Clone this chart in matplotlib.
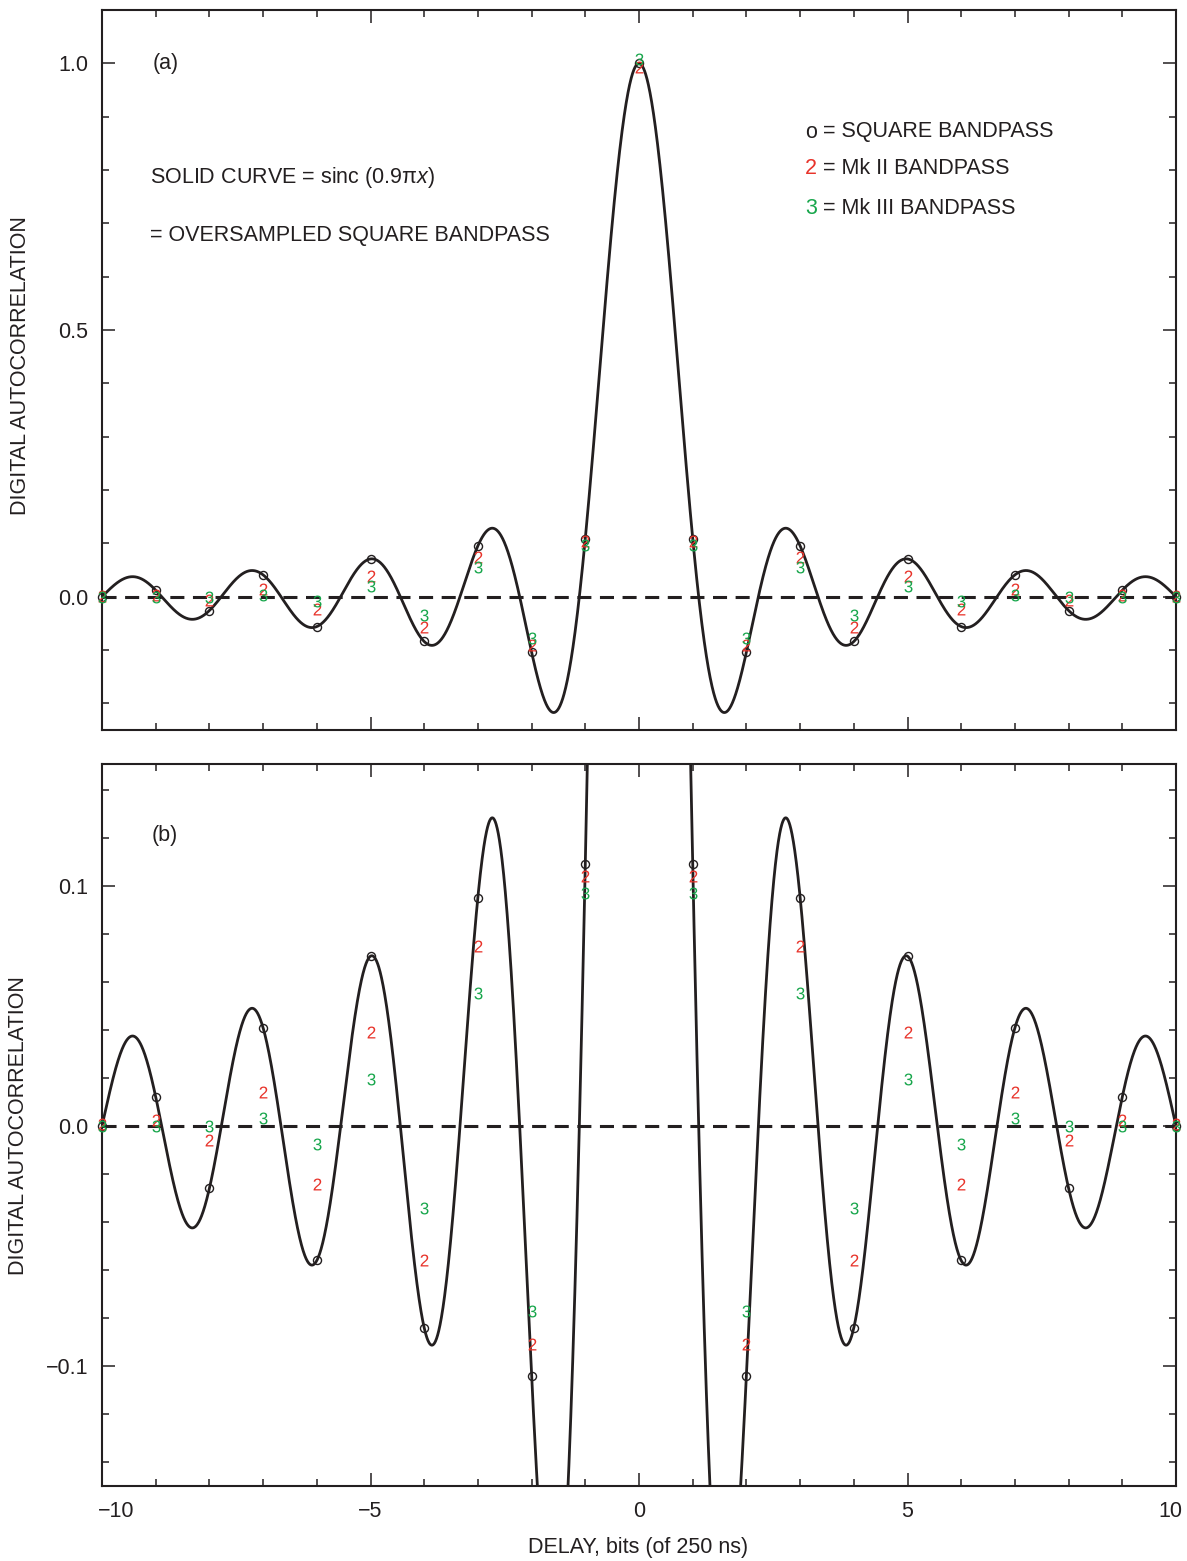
import numpy as np
import matplotlib
matplotlib.use("Agg")
import matplotlib.pyplot as plt
from matplotlib.ticker import MultipleLocator, FixedLocator
from matplotlib.transforms import ScaledTranslation

plt.rcParams['font.family'] = ['Liberation Sans', 'DejaVu Sans']
plt.rcParams['mathtext.fontset'] = 'custom'
plt.rcParams['mathtext.rm'] = 'Liberation Sans'
plt.rcParams['mathtext.it'] = 'Liberation Sans:italic'
plt.rcParams['axes.unicode_minus'] = True

# ---------------- data ----------------
delay = [-10, -9, -8, -7, -6, -5, -4, -3, -2, -1, 0, 1, 2, 3, 4, 5, 6, 7, 8, 9, 10]
square_bp = [0.0, 0.012, -0.026, 0.041, -0.056, 0.071, -0.084, 0.095, -0.104, 0.109, 1.0,
             0.109, -0.104, 0.095, -0.084, 0.071, -0.056, 0.041, -0.026, 0.012, 0.0]
mk2_bp = [0.001, 0.0025, -0.006, 0.014, -0.024, 0.039, -0.056, 0.075, -0.091, 0.104, 0.993,
          0.104, -0.091, 0.075, -0.056, 0.039, -0.024, 0.014, -0.006, 0.0025, 0.001]
mk3_bp = [0.0, 0.0, 0.0, 0.0033, -0.0075, 0.0195, -0.034, 0.0555, -0.077, 0.097, 1.008,
          0.097, -0.077, 0.0555, -0.034, 0.0195, -0.0075, 0.0033, 0.0, 0.0, 0.0]
curve_factor = 0.9          # SOLID CURVE = sinc(0.9 pi x)
curve_range = (-10, 10)

xticks_major = [-10, -5, 0, 5, 10]
xtick_labels = ['\u221210', '\u22125', '0', '5', '10']
top_yticks = [0.0, 0.5, 1.0]
top_ylabels = ['0.0', '0.5', '1.0']
bot_yticks = [-0.1, 0.0, 0.1]
bot_ylabels = ['\u22120.1', '0.0', '0.1']

# ---------------- style ----------------
W, H = 1187, 1561
BLACK = '#231f20'
RED = '#e8332a'
GREEN = '#17a64b'

fig = plt.figure(figsize=(W / 100, H / 100), dpi=100)


def fx(x):
    return x / W


def fy(y):
    return 1 - y / H


ax1 = fig.add_axes([fx(102), fy(730), fx(1176) - fx(102), fy(10) - fy(730)])
ax2 = fig.add_axes([fx(102), fy(1486), fx(1176) - fx(102), fy(764) - fy(1486)])

xc = np.linspace(curve_range[0], curve_range[1], 4001)
yc = np.sinc(curve_factor * xc)

fs = 15.5

for ax, ylim, yt, yl, yminor in [(ax1, (-0.25, 1.1), top_yticks, top_ylabels, 0.1),
                                  (ax2, (-0.15, 0.1508), bot_yticks, bot_ylabels, 0.02)]:
    ax.plot(xc, yc, color=BLACK, lw=2.0, zorder=3)
    ax.axhline(0, color=BLACK, lw=2.2, ls=(0, (4.6, 2.8)), zorder=2)
    ax.plot(delay, square_bp, ls='none', marker='o', ms=5.8, mfc='none', mec=BLACK,
            mew=1.0, zorder=4, clip_on=False)
    ax.plot(delay, mk2_bp, ls='none', marker='$2$', ms=8.6, color=RED, mew=0, zorder=5,
            clip_on=False)
    ax.plot(delay, mk3_bp, ls='none', marker='$3$', ms=8.6, color=GREEN, mew=0, zorder=6,
            clip_on=False)
    ax.set_xlim(-10, 10)
    ax.set_ylim(*ylim)
    ax.xaxis.set_major_locator(FixedLocator(xticks_major))
    ax.xaxis.set_minor_locator(MultipleLocator(1))
    ax.yaxis.set_major_locator(FixedLocator(yt))
    ax.yaxis.set_minor_locator(MultipleLocator(yminor))
    ax.set_yticklabels(yl)
    ax.tick_params(which='both', direction='in', top=True, right=True, width=1.1,
                   color=BLACK, labelcolor=BLACK, labelsize=fs)
    ax.tick_params(which='major', length=9.5, pad=10)
    ax.tick_params(which='minor', length=5)
    for s in ax.spines.values():
        s.set_linewidth(1.5)
        s.set_color(BLACK)

ax1.set_xticklabels([])
ax2.set_xticklabels(xtick_labels)
ax2.tick_params(axis='x', pad=11)

# nudge the end labels inward as in the original
xlabels = ax2.get_xticklabels()
xlabels[0].set_transform(xlabels[0].get_transform() + ScaledTranslation(14 / 100, 0, fig.dpi_scale_trans))
xlabels[-1].set_transform(xlabels[-1].get_transform() + ScaledTranslation(-6 / 100, 0, fig.dpi_scale_trans))

# ---------------- texts ----------------
fig.text(fx(153), fy(64), '(a)', fontsize=fs, color=BLACK, ha='left', va='center')
fig.text(fx(152), fy(836), '(b)', fontsize=fs, color=BLACK, ha='left', va='center')
fig.text(fx(150), fy(177), 'SOLID CURVE = sinc (0.9\u03c0$x$)', fontsize=fs, color=BLACK,
         ha='left', va='center')
fig.text(fx(150), fy(236), '= OVERSAMPLED SQUARE BANDPASS', fontsize=fs, color=BLACK,
         ha='left', va='center')

fig.text(fx(805), fy(132), 'o', fontsize=fs, color=BLACK, ha='left', va='center')
fig.text(fx(805), fy(168), '2', fontsize=fs, color=RED, ha='left', va='center')
fig.text(fx(805), fy(208), '3', fontsize=fs, color=GREEN, ha='left', va='center')
fig.text(fx(823), fy(132), '= SQUARE BANDPASS', fontsize=fs, color=BLACK, ha='left', va='center')
fig.text(fx(823), fy(168), '= Mk II BANDPASS', fontsize=fs, color=BLACK, ha='left', va='center')
fig.text(fx(823), fy(208), '= Mk III BANDPASS', fontsize=fs, color=BLACK, ha='left', va='center')

fig.text(fx(21), fy(366), 'DIGITAL AUTOCORRELATION', fontsize=fs, color=BLACK,
         rotation=90, ha='center', va='center')
fig.text(fx(19), fy(1126), 'DIGITAL AUTOCORRELATION', fontsize=fs, color=BLACK,
         rotation=90, ha='center', va='center')
fig.text(fx(638), fy(1547), 'DELAY, bits (of 250 ns)', fontsize=fs, color=BLACK,
         ha='center', va='center')

fig.savefig('out.png', dpi=100)
